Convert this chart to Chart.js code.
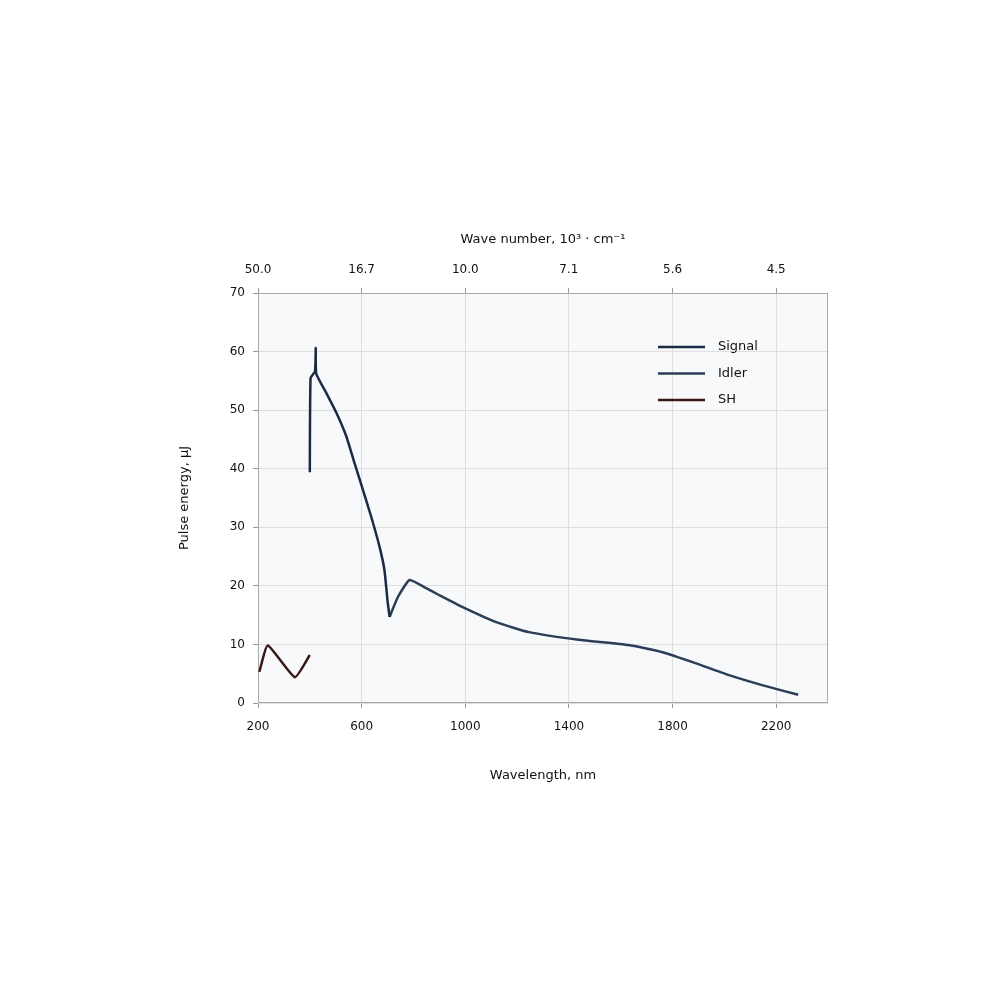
<!DOCTYPE html>
<html>
<head>
<meta charset="utf-8">
<script src="https://cdn.jsdelivr.net/npm/chart.js@4.4.1/dist/chart.umd.min.js"></script>
<style>
  html, body { margin: 0; padding: 0; background: #fff; }
  #wrap { width: 1000px; height: 1000px; }
</style>
</head>
<body>
<div id="wrap"><canvas id="chart" width="1000" height="1000"></canvas></div>
<script>
// tick labels
var wavelengthTicks = [200, 600, 1000, 1400, 1800, 2200];
var wavenumberLabels = ['50.0', '16.7', '10.0', '7.1', '5.6', '4.5'];
var energyTicks = [0, 10, 20, 30, 40, 50, 60, 70];

// series (wavelength, nm / pulse energy)
var signalX = [400, 403, 420, 423, 425, 464, 503, 541, 573, 605, 637, 669, 688, 701, 708];
var signalY = [39.4, 55.5, 56.6, 60.6, 56.2, 52.9, 49.5, 45.5, 40.9, 36.4, 31.8, 26.7, 22.7, 17.0, 14.7];

var idlerX = [708, 740, 785, 849, 900, 988, 1119, 1246, 1438, 1631, 1758, 1888, 2015, 2142, 2285];
var idlerY = [14.7, 18.1, 21.0, 19.6, 18.4, 16.4, 13.8, 12.1, 10.8, 9.9, 8.7, 6.8, 4.8, 3.1, 1.4];

var shX = [205, 238, 342, 400];
var shY = [5.3, 9.8, 4.4, 8.2];

var seriesNames = ['Signal', 'Idler', 'SH'];
var seriesColors = ['#1b2a45', '#2b3d57', '#3a1815'];

function toPoints(xs, ys) {
    return xs.map(function (x, i) { return {x: x, y: ys[i]}; });
}

// background + frame of the plot area
var plotFrame = {
    id: 'plotFrame',
    beforeDatasetsDraw: function (chart) {
        var a = chart.chartArea, c = chart.ctx;
        c.save();
        c.strokeStyle = '#a8a8a8';
        c.lineWidth = 1;
        c.strokeRect(a.left + 0.5, a.top + 0.5, a.right - a.left - 1, a.bottom - a.top - 1);
        c.restore();
    },
    beforeDraw: function (chart) {
        var a = chart.chartArea, c = chart.ctx;
        c.save();
        c.fillStyle = '#f8f9fb';
        c.fillRect(a.left, a.top, a.right - a.left, a.bottom - a.top);
        c.restore();
    }
};

// legend inside the plot, top right
var innerLegend = {
    id: 'innerLegend',
    afterDraw: function (chart) {
        var c = chart.ctx;
        c.save();
        c.font = '13px "DejaVu Sans", sans-serif';
        c.textBaseline = 'middle';
        chart.data.datasets.forEach(function (ds, i) {
            var y = 347 + i * 26.5;
            c.strokeStyle = ds.borderColor;
            c.lineWidth = 2.5;
            c.beginPath();
            c.moveTo(658, y);
            c.lineTo(705, y);
            c.stroke();
            c.fillStyle = '#111';
            c.fillText(ds.label, 718, y);
        });
        c.restore();
    }
};

var ctx = document.getElementById('chart').getContext('2d');
var myChart = new Chart(ctx, {
    type: 'line',
    data: {
        datasets: [
            {label: seriesNames[0], data: toPoints(signalX, signalY), borderColor: seriesColors[0]},
            {label: seriesNames[1], data: toPoints(idlerX, idlerY), borderColor: seriesColors[1]},
            {label: seriesNames[2], data: toPoints(shX, shY), borderColor: seriesColors[2]}
        ]
    },
    options: {
        responsive: false,
        animation: false,
        layout: {
            padding: {left: 150, right: 172, top: 213, bottom: 217}
        },
        elements: {
            line: {borderWidth: 2.5, tension: 0.15, fill: false},
            point: {radius: 0}
        },
        scales: {
            x: {
                type: 'linear',
                position: 'bottom',
                min: 200,
                max: 2400,
                afterBuildTicks: function (scale) {
                    scale.ticks = wavelengthTicks.map(function (v) { return {value: v}; });
                },
                afterFit: function (scale) { scale.height = 80; },
                ticks: {
                    color: '#111',
                    padding: 12,
                    font: {size: 12, family: 'DejaVu Sans'},
                    callback: function (value) { return String(value); }
                },
                grid: {color: '#dedede', tickLength: 5, tickColor: '#999'},
                border: {display: false},
                title: {
                    display: true,
                    text: 'Wavelength, nm',
                    color: '#111',
                    font: {size: 13, family: 'DejaVu Sans'},
                    padding: {top: 7, bottom: 0}
                }
            },
            x2: {
                type: 'linear',
                position: 'top',
                min: 200,
                max: 2400,
                afterBuildTicks: function (scale) {
                    scale.ticks = wavelengthTicks.map(function (v) { return {value: v}; });
                },
                afterFit: function (scale) { scale.height = 80; },
                ticks: {
                    color: '#111',
                    padding: 11,
                    font: {size: 12, family: 'DejaVu Sans'},
                    callback: function (value, index) { return wavenumberLabels[index]; }
                },
                grid: {drawOnChartArea: false, tickLength: 5, color: '#999'},
                border: {display: false},
                title: {
                    display: true,
                    text: 'Wave number, 10³ · cm⁻¹',
                    color: '#111',
                    font: {size: 13, family: 'DejaVu Sans'},
                    padding: {top: 19, bottom: 0}
                }
            },
            y: {
                min: 0,
                max: 70,
                afterBuildTicks: function (scale) {
                    scale.ticks = energyTicks.map(function (v) { return {value: v}; });
                },
                afterFit: function (scale) { scale.width = 108; },
                ticks: {
                    color: '#111',
                    padding: 8,
                    font: {size: 12, family: 'DejaVu Sans'}
                },
                grid: {color: '#dedede', tickLength: 5, tickColor: '#999'},
                border: {display: false},
                title: {
                    display: true,
                    text: 'Pulse energy, μJ',
                    color: '#111',
                    font: {size: 13, family: 'DejaVu Sans'},
                    padding: {top: 27, bottom: 0}
                }
            }
        },
        plugins: {
            legend: {display: false},
            tooltip: {enabled: false}
        }
    },
    plugins: [plotFrame, innerLegend]
});
</script>
</body>
</html>
